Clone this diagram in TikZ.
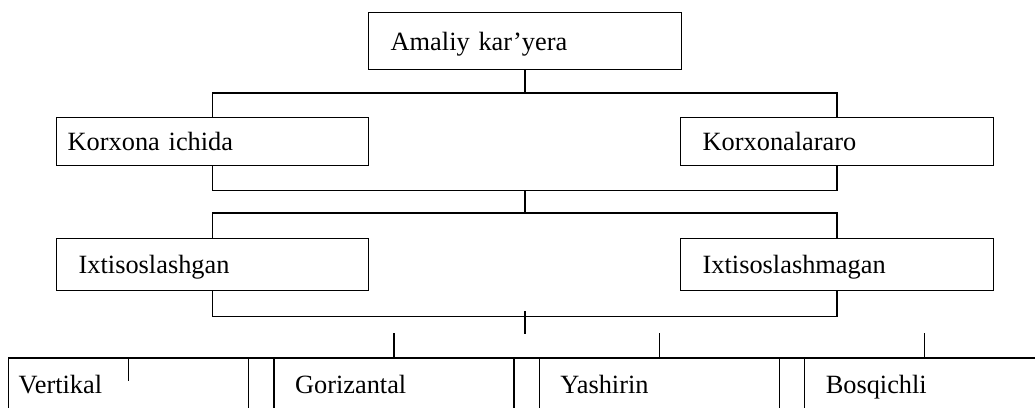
\documentclass[tikz,border=0pt]{standalone}
\usepackage{fontspec}
\setmainfont{Liberation Serif}
\usetikzlibrary{positioning,calc}
\newcommand{\boxfont}{\fontsize{15}{18}\selectfont}
\tikzset{
  kbox/.style 2 args={
    rectangle, draw, anchor=north west,
    text width=#1, inner xsep=#2, inner ysep=0pt,
    text height=10.5pt, text depth=0pt,
    align=left, font=\boxfont
  }
}

\begin{document}
\begin{tikzpicture}[x=0.02cm, y=-0.02cm, line width=0.8pt]
\useasboundingbox (0,0) rectangle (1035,407);
\clip (0,0) rectangle (1035,407);

% Top
\node[kbox={5.38cm}{0.44cm}, minimum height=1.14cm] (amaliy) at (368,12)
  {Amaliy kar’yera};

% Second row
\node[kbox={5.80cm}{0.22cm}, minimum height=0.96cm] (ichki) at (56,117)
  {Korxona ichida};
\node[kbox={5.38cm}{0.44cm}, minimum height=0.96cm] (aro) at (680,117)
  {Korxonalararo};

% Third row
\node[kbox={5.36cm}{0.44cm}, minimum height=1.04cm] (ixt) at (56,238)
  {Ixtisoslashgan};
\node[kbox={5.38cm}{0.44cm}, minimum height=1.04cm] (noixt) at (680,238)
  {Ixtisoslashmagan};

% Bottom row
\node[kbox={4.40cm}{0.20cm}, minimum height=1.02cm] (vert) at (8,358)
  {Vertikal};
\node[kbox={3.96cm}{0.42cm}, minimum height=1.02cm, right=0.48cm of vert] (goriz)
  {Gorizantal};
\node[kbox={3.96cm}{0.42cm}, minimum height=1.02cm, right=0.48cm of goriz] (yash)
  {Yashirin};
\node[kbox={3.96cm}{0.42cm}, minimum height=1.02cm, right=0.48cm of yash] (bosq)
  {Bosqichli};

% Connectors
\draw (amaliy.south) -- ++(0,24);
\draw (ichki.north) -- ++(0,-24) -| (aro.north);
\draw (ichki.south) -- ++(0,24) coordinate (b1) -| (aro.south);
\draw (amaliy.south |- b1) -- ++(0,24);

\draw (ixt.north) -- ++(0,-25) -| (noixt.north);
\draw (ixt.south) -- ++(0,25) coordinate (b2) -| (noixt.south);
\draw ($(amaliy.south |- b2)+(0,-5)$) -- ++(0,23);

\draw (vert.north west) -- (bosq.north east);
\draw (vert.north) -- ++(0,23);
\foreach \n in {goriz,yash,bosq}
  \draw (\n.north) -- ++(0,-25);

\end{tikzpicture}
\end{document}
